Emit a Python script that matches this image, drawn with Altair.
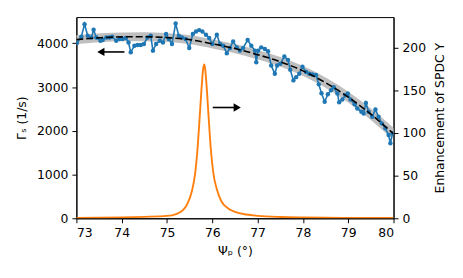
import altair as alt
import pandas as pd

# Measured rate (left axis)
blue_x = [73.01, 73.11, 73.18, 73.25, 73.33, 73.38, 73.44, 73.53, 73.58, 73.66,
          73.73, 73.79, 73.88, 73.95, 74.02, 74.09, 74.15, 74.20, 74.28, 74.35,
          74.42, 74.49, 74.57, 74.64, 74.69, 74.76, 74.84, 74.91, 74.98, 75.04,
          75.11, 75.19, 75.26, 75.33, 75.41, 75.49, 75.57, 75.64, 75.71, 75.78,
          75.86, 75.93, 76.00, 76.10, 76.17, 76.24, 76.32, 76.39, 76.46, 76.54,
          76.61, 76.68, 76.78, 76.86, 76.94, 76.97, 77.01, 77.08, 77.16, 77.23,
          77.30, 77.38, 77.43, 77.50, 77.59, 77.67, 77.72, 77.79, 77.85, 77.92,
          77.99, 78.07, 78.14, 78.21, 78.29, 78.35, 78.41, 78.48, 78.55, 78.62,
          78.68, 78.76, 78.80, 78.87, 78.94, 78.99, 79.05, 79.14, 79.20, 79.29,
          79.34, 79.39, 79.45, 79.53, 79.60, 79.67, 79.74, 79.82, 79.89, 79.93,
          79.98]
blue_y = [4008, 4150, 4438, 4173, 4135, 4309, 4135, 4060, 4076, 4135,
          4135, 4150, 4060, 4098, 4098, 4121, 4021, 3794, 3946, 3962,
          3962, 3985, 4135, 4173, 3833, 3985, 4060, 4021, 4212, 4098,
          3985, 4452, 4173, 4135, 4098, 3894, 4212, 4271, 4302, 4271,
          4196, 4121, 3985, 4196, 3985, 3946, 3772, 3894, 4044, 3908,
          3833, 3894, 4076, 3946, 3833, 3568, 3833, 3908, 3871, 3817,
          3493, 3304, 3493, 3531, 3697, 3622, 3395, 3153, 3227, 3304,
          3463, 3345, 3304, 3289, 3277, 3062, 2858, 2665, 2835, 2926,
          2994, 2851, 2654, 2715, 2812, 2851, 2715, 2608, 2511, 2434,
          2397, 2638, 2434, 2320, 2488, 2320, 2170, 2057, 1905, 1717,
          1944]

# Fit curve (left axis)
fit_x = [73.0, 73.5, 74.0, 74.5, 75.0, 75.5, 76.0, 76.5, 77.0, 77.5, 78.0, 78.5, 79.0, 79.5, 80.0]
fit_y = [4085, 4125, 4148, 4150, 4130, 4085, 3990, 3880, 3740, 3580, 3370, 3100, 2770, 2380, 1930]

# Enhancement (right axis)
enh_x = [73.0, 73.5, 74.0, 74.5, 75.0, 75.2, 75.35, 75.45, 75.55, 75.62, 75.68, 75.73,
         75.77, 75.80, 75.82, 75.84, 75.87, 75.91, 75.96, 76.02, 76.10, 76.20, 76.35,
         76.50, 76.75, 77.0, 77.5, 78.0, 78.5, 79.0, 79.5, 80.0]
enh_y = [0.45, 0.65, 1.05, 1.7, 2.8, 5.0, 9.5, 17, 32, 52, 86, 126,
         158, 176, 180.5, 176, 158, 126, 86, 54, 34, 20, 11.5,
         7.5, 4.4, 2.9, 1.5, 0.9, 0.6, 0.45, 0.35, 0.3]

# Arrow annotations (left-axis units)
arrow_from = [74.06, 76.01]
arrow_to = [73.54, 76.55]
arrow_y = [3803, 2533]
arrow_shape = ["triangle-left", "triangle-right"]

FONT = "DejaVu Sans"
FS = 12.5

blue_df = pd.DataFrame({"x": blue_x, "y": blue_y})
fit_df = pd.DataFrame({"x": fit_x, "y": fit_y})
enh_df = pd.DataFrame({"x": enh_x, "y": enh_y})
arr_df = pd.DataFrame({"x1": arrow_from, "x2": arrow_to, "y": arrow_y, "shape": arrow_shape})

x_scale = alt.Scale(domain=[73, 80], nice=False, zero=False)
yl_scale = alt.Scale(domain=[0, 4600], nice=False)
yr_scale = alt.Scale(domain=[0, 236], nice=False)

x_axis = alt.Axis(values=list(range(73, 81)), format="d", title="Ψₚ (°)", titlePadding=6)
yl_axis = alt.Axis(values=[0, 1000, 2000, 3000, 4000], format="d", title="Γₛ (1/s)", titlePadding=8)
yr_axis = alt.Axis(orient="right", values=[0, 50, 100, 150, 200], format="d",
                   title="Enhancement of SPDC Y", titlePadding=8, titleAngle=270,
                   titleBaseline="top")

X = alt.X("x:Q", scale=x_scale, axis=x_axis)
YL = alt.Y("y:Q", scale=yl_scale, axis=yl_axis)

band = alt.Chart(fit_df).mark_line(color="#bfbfbf", strokeWidth=9, clip=True,
                                   interpolate="monotone").encode(x=X, y=YL)
dashed = alt.Chart(fit_df).mark_line(color="black", strokeWidth=1.6, strokeDash=[7, 3],
                                     clip=True, interpolate="monotone").encode(x=X, y=YL)
blue_line = alt.Chart(blue_df).mark_line(color="#1f77b4", strokeWidth=1.6, clip=True).encode(x=X, y=YL)
blue_pts = alt.Chart(blue_df).mark_circle(color="#1f77b4", size=20, opacity=1, clip=True).encode(x=X, y=YL)

shafts = alt.Chart(arr_df).mark_rule(color="black", strokeWidth=1.6).encode(
    x=alt.X("x1:Q", scale=x_scale, axis=x_axis), x2="x2:Q",
    y=alt.Y("y:Q", scale=yl_scale, axis=yl_axis))
heads = alt.Chart(arr_df).mark_point(color="black", filled=True, opacity=1, size=70).encode(
    x=alt.X("x2:Q", scale=x_scale, axis=x_axis),
    y=alt.Y("y:Q", scale=yl_scale, axis=yl_axis),
    shape=alt.Shape("shape:N", scale=None, legend=None))

left = alt.layer(band, blue_line, blue_pts, dashed, shafts, heads)

orange = alt.Chart(enh_df).mark_line(color="#ff7f0e", strokeWidth=1.9, clip=True,
                                     interpolate="monotone").encode(
    x=X, y=alt.Y("y:Q", scale=yr_scale, axis=yr_axis))

chart = alt.layer(left, orange).resolve_scale(y="independent").properties(
    width=320, height=203,
    autosize=alt.AutoSizeParams(type="none"),
    padding={"left": 69, "top": 8, "right": 62, "bottom": 50},
).configure_axis(
    labelFont=FONT, labelFontSize=FS, labelColor="black", labelPadding=4,
    titleFont=FONT, titleFontSize=FS, titleFontWeight="normal", titleColor="black",
    domainColor="black", domainWidth=1, tickColor="black", tickWidth=1, tickSize=4.5,
    grid=False,
).configure_view(stroke="black", strokeWidth=1)

chart.save("out.html", embed_options={"renderer": "svg", "actions": False})
